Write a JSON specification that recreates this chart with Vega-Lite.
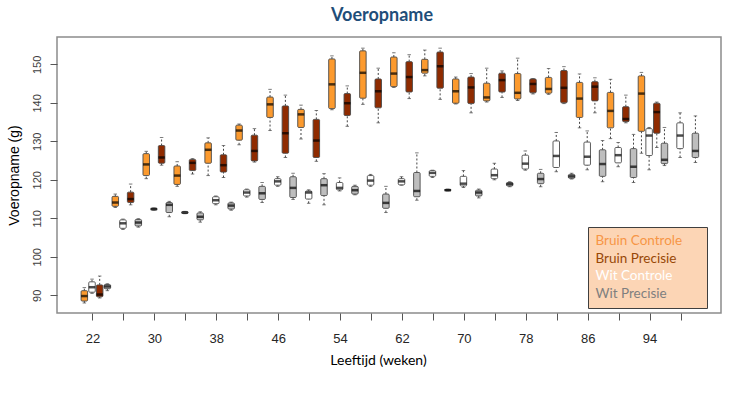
{
  "$schema": "https://vega.github.io/schema/vega-lite/v6.json",
  "width": 664,
  "height": 276,
  "autosize": "none",
  "padding": {"left": 57, "top": 37, "right": 17, "bottom": 83},
  "background": "white",
  "title": {"text": "Voeropname", "font": "Lato", "fontSize": 18, "fontWeight": "bold", "color": "#1F4E79", "anchor": "middle", "dx": -7, "offset": 12},
  "data": {"values": [
    {"week": 22, "group": "Bruin Controle", "lo": 88.0, "q1": 88.5, "med": 89.8, "q3": 91.2, "hi": 92.0},
    {"week": 22, "group": "Wit Controle", "lo": 90.5, "q1": 90.8, "med": 92.1, "q3": 93.5, "hi": 94.2},
    {"week": 22, "group": "Bruin Precisie", "lo": 89.3, "q1": 89.6, "med": 90.2, "q3": 92.7, "hi": 95.0},
    {"week": 22, "group": "Wit Precisie", "lo": 91.2, "q1": 91.7, "med": 92.3, "q3": 92.8, "hi": 93.0},
    {"week": 26, "group": "Bruin Controle", "lo": 112.8, "q1": 113.1, "med": 114.1, "q3": 115.7, "hi": 116.3},
    {"week": 26, "group": "Wit Controle", "lo": 107.1, "q1": 107.4, "med": 108.7, "q3": 109.6, "hi": 109.8},
    {"week": 26, "group": "Bruin Precisie", "lo": 113.5, "q1": 114.1, "med": 115.0, "q3": 116.8, "hi": 118.9},
    {"week": 26, "group": "Wit Precisie", "lo": 107.7, "q1": 108.0, "med": 108.9, "q3": 109.7, "hi": 109.9},
    {"week": 30, "group": "Bruin Controle", "lo": 120.3, "q1": 121.1, "med": 124.0, "q3": 126.8, "hi": 127.4},
    {"week": 30, "group": "Wit Controle", "lo": 112.1, "q1": 112.2, "med": 112.4, "q3": 112.6, "hi": 112.7},
    {"week": 30, "group": "Bruin Precisie", "lo": 123.8, "q1": 124.3, "med": 125.8, "q3": 128.9, "hi": 131.0},
    {"week": 30, "group": "Wit Precisie", "lo": 110.4, "q1": 111.5, "med": 113.5, "q3": 114.1, "hi": 114.4},
    {"week": 34, "group": "Bruin Controle", "lo": 118.3, "q1": 118.8, "med": 121.1, "q3": 123.6, "hi": 124.7},
    {"week": 34, "group": "Wit Controle", "lo": 111.2, "q1": 111.3, "med": 111.5, "q3": 111.7, "hi": 111.8},
    {"week": 34, "group": "Bruin Precisie", "lo": 121.5, "q1": 122.4, "med": 124.4, "q3": 125.3, "hi": 125.5},
    {"week": 34, "group": "Wit Precisie", "lo": 109.0, "q1": 109.6, "med": 110.4, "q3": 111.4, "hi": 111.7},
    {"week": 38, "group": "Bruin Controle", "lo": 121.1, "q1": 124.3, "med": 127.8, "q3": 129.6, "hi": 130.9},
    {"week": 38, "group": "Wit Controle", "lo": 113.5, "q1": 113.8, "med": 114.7, "q3": 115.6, "hi": 115.8},
    {"week": 38, "group": "Bruin Precisie", "lo": 120.6, "q1": 122.0, "med": 123.8, "q3": 126.5, "hi": 128.9},
    {"week": 38, "group": "Wit Precisie", "lo": 112.1, "q1": 112.4, "med": 113.3, "q3": 114.0, "hi": 114.2},
    {"week": 42, "group": "Bruin Controle", "lo": 129.1, "q1": 130.3, "med": 132.8, "q3": 134.2, "hi": 134.5},
    {"week": 42, "group": "Wit Controle", "lo": 115.5, "q1": 115.8, "med": 116.7, "q3": 117.4, "hi": 117.6},
    {"week": 42, "group": "Bruin Precisie", "lo": 124.6, "q1": 124.9, "med": 127.5, "q3": 131.6, "hi": 133.3},
    {"week": 42, "group": "Wit Precisie", "lo": 114.1, "q1": 114.9, "med": 116.5, "q3": 118.3, "hi": 119.3},
    {"week": 46, "group": "Bruin Controle", "lo": 132.8, "q1": 136.2, "med": 139.6, "q3": 141.5, "hi": 143.5},
    {"week": 46, "group": "Wit Controle", "lo": 118.3, "q1": 118.6, "med": 119.6, "q3": 120.3, "hi": 120.8},
    {"week": 46, "group": "Bruin Precisie", "lo": 125.8, "q1": 126.9, "med": 132.1, "q3": 139.2, "hi": 142.0},
    {"week": 46, "group": "Wit Precisie", "lo": 114.9, "q1": 115.4, "med": 117.9, "q3": 120.8, "hi": 121.7},
    {"week": 50, "group": "Bruin Controle", "lo": 130.6, "q1": 133.6, "med": 137.0, "q3": 138.3, "hi": 139.4},
    {"week": 50, "group": "Wit Controle", "lo": 113.9, "q1": 115.0, "med": 116.7, "q3": 117.1, "hi": 117.4},
    {"week": 50, "group": "Bruin Precisie", "lo": 124.8, "q1": 125.8, "med": 130.2, "q3": 135.7, "hi": 138.0},
    {"week": 50, "group": "Wit Precisie", "lo": 113.5, "q1": 115.9, "med": 118.6, "q3": 120.3, "hi": 121.6},
    {"week": 54, "group": "Bruin Controle", "lo": 138.2, "q1": 138.5, "med": 144.8, "q3": 151.4, "hi": 152.2},
    {"week": 54, "group": "Wit Controle", "lo": 117.1, "q1": 117.4, "med": 117.9, "q3": 119.3, "hi": 120.5},
    {"week": 54, "group": "Bruin Precisie", "lo": 133.9, "q1": 136.7, "med": 139.9, "q3": 142.4, "hi": 144.4},
    {"week": 54, "group": "Wit Precisie", "lo": 116.1, "q1": 116.3, "med": 117.3, "q3": 118.3, "hi": 118.6},
    {"week": 58, "group": "Bruin Controle", "lo": 139.6, "q1": 141.2, "med": 147.8, "q3": 153.5, "hi": 154.2},
    {"week": 58, "group": "Wit Controle", "lo": 118.3, "q1": 118.6, "med": 119.8, "q3": 121.1, "hi": 121.4},
    {"week": 58, "group": "Bruin Precisie", "lo": 134.8, "q1": 138.7, "med": 143.0, "q3": 146.2, "hi": 149.0},
    {"week": 58, "group": "Wit Precisie", "lo": 111.5, "q1": 112.6, "med": 114.0, "q3": 116.3, "hi": 118.3},
    {"week": 62, "group": "Bruin Controle", "lo": 144.0, "q1": 144.2, "med": 147.6, "q3": 151.9, "hi": 153.0},
    {"week": 62, "group": "Wit Controle", "lo": 118.6, "q1": 118.7, "med": 119.6, "q3": 120.3, "hi": 120.8},
    {"week": 62, "group": "Bruin Precisie", "lo": 141.1, "q1": 142.8, "med": 146.7, "q3": 150.7, "hi": 152.5},
    {"week": 62, "group": "Wit Precisie", "lo": 114.7, "q1": 115.6, "med": 117.1, "q3": 121.9, "hi": 127.0},
    {"week": 66, "group": "Bruin Controle", "lo": 147.0, "q1": 147.7, "med": 148.5, "q3": 151.3, "hi": 153.7},
    {"week": 66, "group": "Wit Controle", "lo": 120.6, "q1": 120.9, "med": 121.8, "q3": 122.4, "hi": 122.5},
    {"week": 66, "group": "Bruin Precisie", "lo": 140.9, "q1": 143.8, "med": 149.5, "q3": 153.2, "hi": 154.2},
    {"week": 66, "group": "Wit Precisie", "lo": 117.1, "q1": 117.2, "med": 117.3, "q3": 117.5, "hi": 117.6},
    {"week": 70, "group": "Bruin Controle", "lo": 139.7, "q1": 139.9, "med": 143.0, "q3": 146.2, "hi": 146.7},
    {"week": 70, "group": "Wit Controle", "lo": 118.0, "q1": 118.4, "med": 119.0, "q3": 120.9, "hi": 122.4},
    {"week": 70, "group": "Bruin Precisie", "lo": 137.4, "q1": 139.8, "med": 144.0, "q3": 146.7, "hi": 147.6},
    {"week": 70, "group": "Wit Precisie", "lo": 115.3, "q1": 115.8, "med": 116.7, "q3": 117.3, "hi": 117.6},
    {"week": 74, "group": "Bruin Controle", "lo": 140.2, "q1": 140.5, "med": 141.4, "q3": 145.1, "hi": 149.0},
    {"week": 74, "group": "Wit Controle", "lo": 120.0, "q1": 120.3, "med": 121.2, "q3": 122.8, "hi": 124.3},
    {"week": 74, "group": "Bruin Precisie", "lo": 141.4, "q1": 142.8, "med": 145.9, "q3": 147.7, "hi": 148.3},
    {"week": 74, "group": "Wit Precisie", "lo": 118.2, "q1": 118.4, "med": 118.9, "q3": 119.3, "hi": 119.5},
    {"week": 78, "group": "Bruin Controle", "lo": 140.6, "q1": 141.0, "med": 142.6, "q3": 147.6, "hi": 151.6},
    {"week": 78, "group": "Wit Controle", "lo": 122.5, "q1": 122.8, "med": 124.2, "q3": 126.4, "hi": 127.5},
    {"week": 78, "group": "Bruin Precisie", "lo": 142.3, "q1": 142.6, "med": 144.9, "q3": 146.2, "hi": 146.3},
    {"week": 78, "group": "Wit Precisie", "lo": 118.2, "q1": 119.0, "med": 120.2, "q3": 121.7, "hi": 122.7},
    {"week": 82, "group": "Bruin Controle", "lo": 142.2, "q1": 142.5, "med": 143.6, "q3": 146.6, "hi": 148.9},
    {"week": 82, "group": "Wit Controle", "lo": 122.1, "q1": 123.2, "med": 126.2, "q3": 130.1, "hi": 132.3},
    {"week": 82, "group": "Bruin Precisie", "lo": 139.8, "q1": 140.0, "med": 143.9, "q3": 148.4, "hi": 149.4},
    {"week": 82, "group": "Wit Precisie", "lo": 120.2, "q1": 120.4, "med": 120.9, "q3": 121.4, "hi": 121.7},
    {"week": 86, "group": "Bruin Controle", "lo": 133.5, "q1": 136.2, "med": 141.1, "q3": 145.3, "hi": 147.5},
    {"week": 86, "group": "Wit Controle", "lo": 122.6, "q1": 123.8, "med": 126.0, "q3": 129.8, "hi": 132.7},
    {"week": 86, "group": "Bruin Precisie", "lo": 137.4, "q1": 140.5, "med": 144.2, "q3": 145.5, "hi": 146.5},
    {"week": 86, "group": "Wit Precisie", "lo": 119.5, "q1": 120.9, "med": 124.1, "q3": 127.8, "hi": 130.2},
    {"week": 90, "group": "Bruin Controle", "lo": 130.7, "q1": 133.5, "med": 137.9, "q3": 142.7, "hi": 146.1},
    {"week": 90, "group": "Wit Controle", "lo": 123.4, "q1": 124.4, "med": 126.4, "q3": 128.4, "hi": 129.7},
    {"week": 90, "group": "Bruin Precisie", "lo": 134.8, "q1": 135.1, "med": 135.8, "q3": 139.0, "hi": 142.0},
    {"week": 90, "group": "Wit Precisie", "lo": 119.3, "q1": 120.6, "med": 123.4, "q3": 128.1, "hi": 131.8},
    {"week": 94, "group": "Bruin Controle", "lo": 126.9, "q1": 132.6, "med": 142.4, "q3": 147.0, "hi": 147.9},
    {"week": 94, "group": "Wit Controle", "lo": 122.6, "q1": 126.3, "med": 131.5, "q3": 133.3, "hi": 133.6},
    {"week": 94, "group": "Bruin Precisie", "lo": 128.4, "q1": 132.1, "med": 137.6, "q3": 139.9, "hi": 140.2},
    {"week": 94, "group": "Wit Precisie", "lo": 123.7, "q1": 124.2, "med": 125.2, "q3": 129.5, "hi": 133.6},
    {"week": 98, "group": "Wit Controle", "lo": 125.8, "q1": 128.1, "med": 131.5, "q3": 134.8, "hi": 137.4},
    {"week": 98, "group": "Wit Precisie", "lo": 124.5, "q1": 125.8, "med": 127.5, "q3": 132.1, "hi": 136.6}
  ]},
  "encoding": {
    "x": {
      "field": "week", "type": "ordinal",
      "scale": {"type": "band", "domain": [22, 26, 30, 34, 38, 42, 46, 50, 54, 58, 62, 66, 70, 74, 78, 82, 86, 90, 94, 98], "range": [20.5, 639.5], "paddingInner": 0, "paddingOuter": 0},
      "axis": {"title": "Leeftijd (weken)", "labelExpr": "(datum.value - 22) % 8 == 0 ? datum.label : ''", "labelAngle": 0, "labelOverlap": false, "domain": false, "tickSize": 7, "tickColor": "#555555", "labelPadding": 12, "labelFont": "Liberation Sans", "labelFontSize": 13, "labelColor": "#262626", "titleFont": "Lato", "titleFontSize": 14, "titleFontWeight": "normal", "titleColor": "#000000", "titlePadding": 8, "titleX": 321, "titleAnchor": "middle"}
    },
    "xOffset": {"field": "group", "type": "nominal", "scale": {"type": "band", "domain": ["Bruin Controle", "Wit Controle", "Bruin Precisie", "Wit Precisie"], "range": [3.0, 33.7], "paddingInner": 0, "paddingOuter": 0}}
  },
  "layer": [
    {
      "mark": {"type": "rule", "strokeDash": [2, 2], "color": "#444444", "strokeWidth": 1},
      "encoding": {
        "y": {"field": "lo", "type": "quantitative", "title": "Voeropname (g)", "scale": {"domain": [85.4, 157.1], "nice": false, "zero": false},
          "axis": {"values": [90, 100, 110, 120, 130, 140, 150], "grid": false, "domain": false, "tickSize": 7, "tickColor": "#555555", "labelAngle": 270, "labelAlign": "center", "labelBaseline": "bottom", "labelPadding": 8, "labelFont": "Liberation Sans", "labelFontSize": 11, "labelColor": "#404040", "titleFont": "Liberation Sans", "titleFontSize": 14, "titleFontWeight": "normal", "titleColor": "#000000", "titlePadding": 10}},
        "y2": {"field": "q1"}
      }
    },
    {
      "mark": {"type": "rule", "strokeDash": [2, 2], "color": "#444444", "strokeWidth": 1},
      "encoding": {"y": {"field": "q3", "type": "quantitative", "title": "Voeropname (g)"}, "y2": {"field": "hi"}}
    },
    {
      "mark": {"type": "tick", "size": 3.5, "thickness": 1, "color": "#444444"},
      "encoding": {"y": {"field": "lo", "type": "quantitative", "title": "Voeropname (g)"}}
    },
    {
      "mark": {"type": "tick", "size": 3.5, "thickness": 1, "color": "#444444"},
      "encoding": {"y": {"field": "hi", "type": "quantitative", "title": "Voeropname (g)"}}
    },
    {
      "mark": {"type": "bar", "width": 6.5, "stroke": "#4a4a4a", "strokeWidth": 0.9, "cornerRadius": 1},
      "encoding": {
        "y": {"field": "q1", "type": "quantitative", "title": "Voeropname (g)"},
        "y2": {"field": "q3"},
        "fill": {"field": "group", "type": "nominal",
          "scale": {"domain": ["Bruin Controle", "Bruin Precisie", "Wit Controle", "Wit Precisie"], "range": ["#FC9A2E", "#8F2B00", "#FFFFFF", "#BEBEBE"]},
          "legend": {"title": "ww", "titleOrient": "right", "titleOpacity": 0, "titleFontSize": 8, "titlePadding": 5, "orient": "none", "legendX": 531, "legendY": 190, "fillColor": "#FCD5B5", "strokeColor": "#3F3F3F", "padding": 7, "symbolOpacity": 0, "symbolSize": 0, "symbolStrokeWidth": 0, "symbolOffset": 0, "labelOffset": -13, "rowPadding": 2.8, "labelFont": "Lato", "labelFontSize": 13.5, "labelLimit": 300,
            "labelColor": {"expr": "datum.value == 'Bruin Controle' ? '#F79646' : datum.value == 'Bruin Precisie' ? '#984807' : datum.value == 'Wit Controle' ? '#FFFFFF' : '#7F7F7F'"}}
        }
      }
    },
    {
      "mark": {"type": "tick", "size": 6.5, "thickness": 2.5, "color": "#000000"},
      "encoding": {"y": {"field": "med", "type": "quantitative", "title": "Voeropname (g)"}}
    }
  ],
  "config": {
    "view": {"stroke": "#8C8C8C", "strokeWidth": 1.5},
    "axis": {"grid": false}
  }
}
